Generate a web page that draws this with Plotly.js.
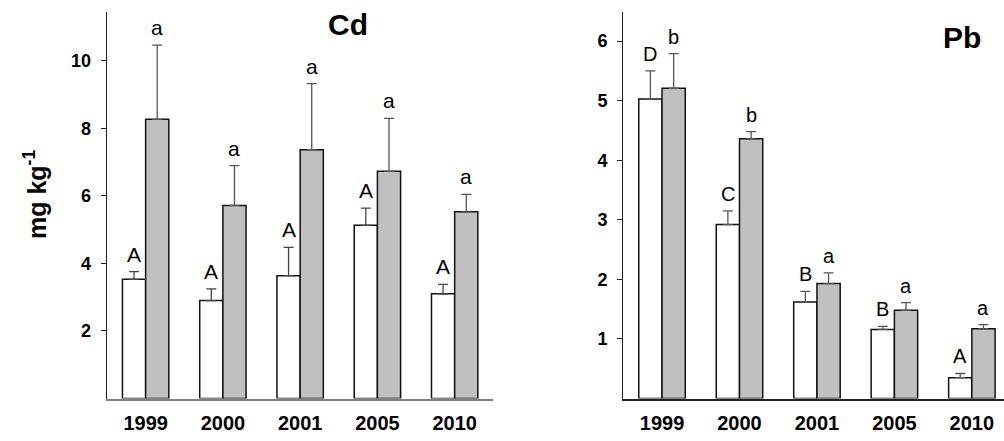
<!DOCTYPE html>
<html>
<head>
<meta charset="utf-8">
<script src="https://cdn.plot.ly/plotly-3.0.1.min.js"></script>
<style>html,body{margin:0;padding:0;background:#fff;}#chart{width:1004px;height:441px;}</style>
</head>
<body>
<div id="chart"></div>
<script>
// ---- Data ----
const years = ['1999', '2000', '2001', '2005', '2010'];

const cdWhite = [3.53, 2.90, 3.64, 5.13, 3.10];
const cdWhiteErr = [0.23, 0.35, 0.84, 0.51, 0.28];
const cdGrey = [8.27, 5.72, 7.37, 6.73, 5.53];
const cdGreyErr = [2.20, 1.18, 1.96, 1.57, 0.52];
const cdWhiteLetters = ['A', 'A', 'A', 'A', 'A'];
const cdGreyLetters = ['a', 'a', 'a', 'a', 'a'];

const pbWhite = [5.03, 2.92, 1.62, 1.16, 0.35];
const pbWhiteErr = [0.47, 0.23, 0.18, 0.05, 0.07];
const pbGrey = [5.21, 4.36, 1.93, 1.48, 1.17];
const pbGreyErr = [0.58, 0.12, 0.18, 0.13, 0.07];
const pbWhiteLetters = ['D', 'C', 'B', 'B', 'A'];
const pbGreyLetters = ['b', 'b', 'a', 'a', 'a'];

const yTitle = 'mg kg<sup>-1</sup>';
const panelTitles = ['Cd', 'Pb'];

// ---- Build ----
const FONT = 'Liberation Sans, Arial, sans-serif';
const zeros = years.map(() => 0);

function barTrace(y, err, fill, xa, ya, errColor) {
  return {
    type: 'bar', x: years, y: y, xaxis: xa, yaxis: ya,
    marker: {color: fill, line: {color: '#111', width: 1.5}},
    error_y: {type: 'data', array: err, arrayminus: zeros, symmetric: false,
              visible: true, color: errColor, thickness: 1.3, width: 5},
    showlegend: false, hoverinfo: 'skip'
  };
}

const traces = [
  barTrace(cdWhite, cdWhiteErr, '#ffffff', 'x', 'y', '#444'),
  barTrace(cdGrey, cdGreyErr, '#c0c0c0', 'x', 'y', '#555'),
  barTrace(pbWhite, pbWhiteErr, '#ffffff', 'x2', 'y2', '#555'),
  barTrace(pbGrey, pbGreyErr, '#c0c0c0', 'x2', 'y2', '#555')
];

const annotations = [];
function letters(vals, errs, labels, off, xr, yr, size) {
  vals.forEach((v, i) => {
    annotations.push({
      xref: xr, yref: yr, x: i + off, y: v + errs[i], text: labels[i],
      showarrow: false, yanchor: 'bottom', xanchor: 'center', yshift: 4,
      font: {family: FONT, size: size, color: '#000'}
    });
  });
}
letters(cdWhite, cdWhiteErr, cdWhiteLetters, -0.15, 'x', 'y', 21);
letters(cdGrey, cdGreyErr, cdGreyLetters, 0.15, 'x', 'y', 21);
letters(pbWhite, pbWhiteErr, pbWhiteLetters, -0.15, 'x2', 'y2', 20);
letters(pbGrey, pbGreyErr, pbGreyLetters, 0.15, 'x2', 'y2', 20);

annotations.push({xref: 'paper', yref: 'paper', x: 348 / 1004, y: 1 - 25 / 441,
  text: '<b>' + panelTitles[0] + '</b>', showarrow: false, xanchor: 'center', yanchor: 'middle',
  font: {family: FONT, size: 30, color: '#000'}});
annotations.push({xref: 'paper', yref: 'paper', x: 962 / 1004, y: 1 - 37 / 441,
  text: '<b>' + panelTitles[1] + '</b>', showarrow: false, xanchor: 'center', yanchor: 'middle',
  font: {family: FONT, size: 30, color: '#000'}});
annotations.push({xref: 'paper', yref: 'paper', x: 35 / 1004, y: 1 - 195 / 441,
  text: '<b>' + yTitle + '</b>', showarrow: false, textangle: -90,
  xanchor: 'center', yanchor: 'middle',
  font: {family: FONT, size: 25, color: '#000'}});

const yDomain = [(441 - 398.5) / 441, (441 - 12) / 441];

function xAxis(domain, range, lineColor) {
  return {
    domain: domain, range: range, type: 'category', showgrid: false, zeroline: false,
    showline: true, linecolor: lineColor, linewidth: 2, ticks: '', fixedrange: true,
    tickfont: {family: FONT, size: 20, color: '#000', weight: 'bold'},
    ticklabelstandoff: 5
  };
}
function yAxis(anchor, range, tickvals) {
  return {
    anchor: anchor, domain: yDomain, range: range, showgrid: false, zeroline: false,
    showline: true, linecolor: '#222', linewidth: 1.3, ticks: 'outside', ticklen: 5,
    tickcolor: '#222', tickwidth: 1, tickvals: tickvals, fixedrange: true,
    tickfont: {family: FONT, size: 18, color: '#000', weight: 'bold'},
    ticklabelstandoff: 6
  };
}

const layout = {
  width: 1004, height: 441,
  margin: {l: 0, r: 0, t: 0, b: 0},
  paper_bgcolor: '#fff', plot_bgcolor: 'rgba(0,0,0,0)',
  barmode: 'group', bargap: 0.4, bargroupgap: 0,
  showlegend: false,
  xaxis: Object.assign(xAxis([107 / 1004, 493.3 / 1004], [-0.5, 4.5], '#808080'), {anchor: 'y'}),
  yaxis: yAxis('x', [0, 11.45], [2, 4, 6, 8, 10]),
  xaxis2: Object.assign(xAxis([623.3 / 1004, 1], [-0.5, 4.415], '#222'), {anchor: 'y2'}),
  yaxis2: yAxis('x2', [0, 6.49], [1, 2, 3, 4, 5, 6]),
  annotations: annotations
};

Plotly.newPlot('chart', traces, layout, {displayModeBar: false, staticPlot: true});
</script>
</body>
</html>
